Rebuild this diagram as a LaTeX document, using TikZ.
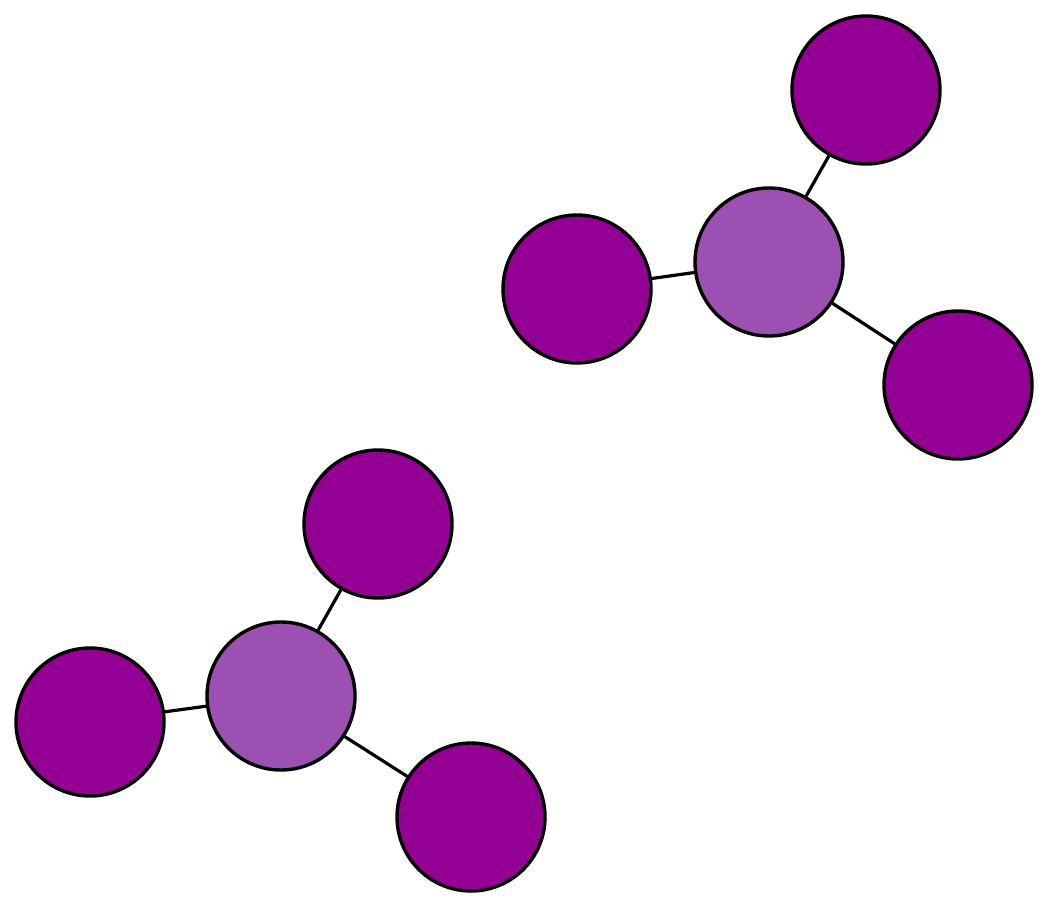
\documentclass[tikz,border=0pt]{standalone}
\begin{document}
\begin{tikzpicture}[x=1pt,y=-1pt,
  leaf/.style={circle,draw=black,line width=3.4pt,fill=darkp,minimum size=148pt,inner sep=0pt},
  hub/.style={circle,draw=black,line width=3.4pt,fill=lightp,minimum size=148pt,inner sep=0pt},
  edge/.style={draw=black,line width=3.2pt}]
\definecolor{darkp}{HTML}{930093}
\definecolor{lightp}{HTML}{9C50B1}
\useasboundingbox (0,0) rectangle (1050,908);
\node[hub] (h1) at (769,262) {};
\node[leaf] (a1) at (866,90) {};
\node[leaf] (b1) at (577,289) {};
\node[leaf] (c1) at (958,385) {};
\node[hub] (h2) at (281,696) {};
\node[leaf] (a2) at (378,524) {};
\node[leaf] (b2) at (90,722) {};
\node[leaf] (c2) at (471,817) {};
\draw[edge] (h1) -- (a1);
\draw[edge] (h1) -- (b1);
\draw[edge] (h1) -- (c1);
\draw[edge] (h2) -- (a2);
\draw[edge] (h2) -- (b2);
\draw[edge] (h2) -- (c2);
\end{tikzpicture}
\end{document}
